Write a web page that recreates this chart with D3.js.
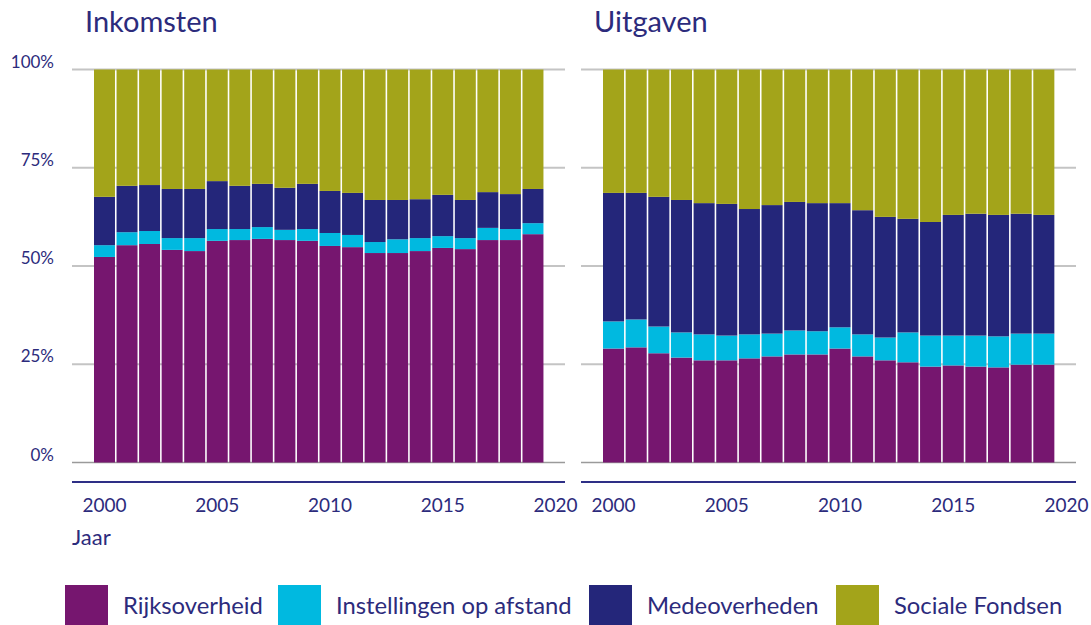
<!DOCTYPE html>
<html>
<head>
<meta charset="utf-8">
<style>
  body { margin: 0; background: #fff; }
  svg { font-family: Lato, "Noto Sans", sans-serif; }
</style>
</head>
<body>
<div id="chart"></div>
<script src="https://d3js.org/d3.v7.min.js"></script>
<script>
const years = [2000,2001,2002,2003,2004,2005,2006,2007,2008,2009,2010,2011,2012,2013,2014,2015,2016,2017,2018,2019];
const tickYears = [2000, 2005, 2010, 2015, 2020];
const yTicks = [0, 25, 50, 75, 100];
const seriesNames = ["Rijksoverheid", "Instellingen op afstand", "Medeoverheden", "Sociale Fondsen"];
const colors = ["#76166f", "#00b9e0", "#24267a", "#a3a41a"];

// inkomsten, aandeel in %
const inkRijk = [52.3,55.3,55.6,54.1,53.8,56.4,56.6,56.9,56.6,56.4,55.1,54.8,53.3,53.3,53.8,54.6,54.3,56.6,56.6,58.1];
const inkInst = [3.0,3.3,3.3,3.0,3.3,3.0,2.8,3.0,2.6,3.0,3.3,3.1,2.8,3.5,3.3,3.0,2.8,3.1,2.8,2.8];
const inkMede = [12.3,11.8,11.7,12.5,12.5,12.2,11.0,11.0,10.7,11.5,10.7,10.7,10.7,10.0,9.9,10.5,9.7,9.1,8.9,8.7];
const inkSoc  = [32.4,29.6,29.4,30.4,30.4,28.4,29.6,29.1,30.1,29.1,30.9,31.4,33.2,33.2,33.0,31.9,33.2,31.2,31.7,30.4];

// uitgaven, aandeel in %
const uitRijk = [29.0,29.3,27.8,26.7,26.0,26.0,26.5,27.0,27.5,27.5,29.0,27.0,26.0,25.5,24.4,24.7,24.4,24.2,24.9,24.9];
const uitInst = [6.9,7.1,6.8,6.4,6.6,6.3,6.1,5.8,6.1,5.9,5.4,5.6,5.8,7.6,7.9,7.6,7.9,7.9,7.9,7.9];
const uitMede = [32.7,32.2,33.0,33.7,33.4,33.5,31.9,32.7,32.7,32.6,31.6,31.6,30.7,28.9,28.9,30.7,31.0,30.9,30.5,30.2];
const uitSoc  = [31.4,31.4,32.4,33.2,34.0,34.2,35.5,34.5,33.7,34.0,34.0,35.8,37.5,38.0,38.8,37.0,36.7,37.0,36.7,37.0];

const textColor = "#2c2b7c";
const width = 1091, height = 625;

const svg = d3.select("#chart").append("svg")
  .attr("width", width)
  .attr("height", height);

const y = d3.scaleLinear().domain([0, 100]).range([462.5, 69.5]);

function buildRows(cols) {
  return years.map((yr, i) => {
    const row = { year: yr };
    seriesNames.forEach((s, k) => row[s] = cols[k][i]);
    return row;
  });
}

function panel(title, cols, x0, x1, bandStart, showYLabels) {
  const x = d3.scaleBand()
    .domain(d3.range(2000, 2021))
    .range([bandStart, x1 + 1])
    .paddingInner(0.07)
    .paddingOuter(0);

  const g = svg.append("g");

  g.append("text")
    .attr("x", bandStart - 9)
    .attr("y", 32)
    .attr("fill", textColor)
    .style("font-size", "29px")
    .text(title);

  // grid
  g.selectAll("line.grid")
    .data(yTicks)
    .join("line")
    .attr("class", "grid")
    .attr("x1", x0).attr("x2", x1)
    .attr("y1", d => y(d)).attr("y2", d => y(d))
    .attr("stroke", d => d === 0 ? "#9a9a9a" : "#c4c4c4")
    .attr("stroke-width", d => d === 0 ? 1.5 : 2);

  if (showYLabels) {
    g.selectAll("text.ylab")
      .data(yTicks)
      .join("text")
      .attr("class", "ylab")
      .attr("x", 54)
      .attr("y", d => y(d) - 2)
      .attr("text-anchor", "end")
      .attr("fill", textColor)
      .style("font-size", "17px")
      .text(d => d + "%");
  }

  const stack = d3.stack().keys(seriesNames);
  const layers = stack(buildRows(cols));

  g.selectAll("g.layer")
    .data(layers)
    .join("g")
    .attr("class", "layer")
    .attr("fill", (d, i) => colors[i])
    .selectAll("rect")
    .data(d => d)
    .join("rect")
    .attr("x", d => x(d.data.year))
    .attr("width", x.bandwidth())
    .attr("y", d => y(d[1]))
    .attr("height", d => y(d[0]) - y(d[1]));

  // x axis
  g.append("line")
    .attr("x1", x0).attr("x2", x1)
    .attr("y1", 482).attr("y2", 482)
    .attr("stroke", "#2e2f86")
    .attr("stroke-width", 2);

  g.selectAll("text.xlab")
    .data(tickYears)
    .join("text")
    .attr("class", "xlab")
    .attr("x", d => x(d) + x.bandwidth() / 2)
    .attr("y", 512)
    .attr("text-anchor", "middle")
    .attr("fill", textColor)
    .style("font-size", "19px")
    .text(d => d);
}

panel("Inkomsten", [inkRijk, inkInst, inkMede, inkSoc], 72, 565, 94, true);
panel("Uitgaven", [uitRijk, uitInst, uitMede, uitSoc], 581, 1076, 603, false);

svg.append("text")
  .attr("x", 72)
  .attr("y", 545)
  .attr("fill", textColor)
  .style("font-size", "22px")
  .text("Jaar");

// legend
const legendX = [65, 278, 589, 836];
const legend = svg.append("g");
legend.selectAll("rect")
  .data(seriesNames)
  .join("rect")
  .attr("x", (d, i) => legendX[i])
  .attr("y", 585)
  .attr("width", 43)
  .attr("height", 40)
  .attr("fill", (d, i) => colors[i]);

legend.selectAll("text")
  .data(seriesNames)
  .join("text")
  .attr("x", (d, i) => legendX[i] + 58)
  .attr("y", 614)
  .attr("fill", textColor)
  .style("font-size", "23.8px")
  .text(d => d);
</script>
</body>
</html>
